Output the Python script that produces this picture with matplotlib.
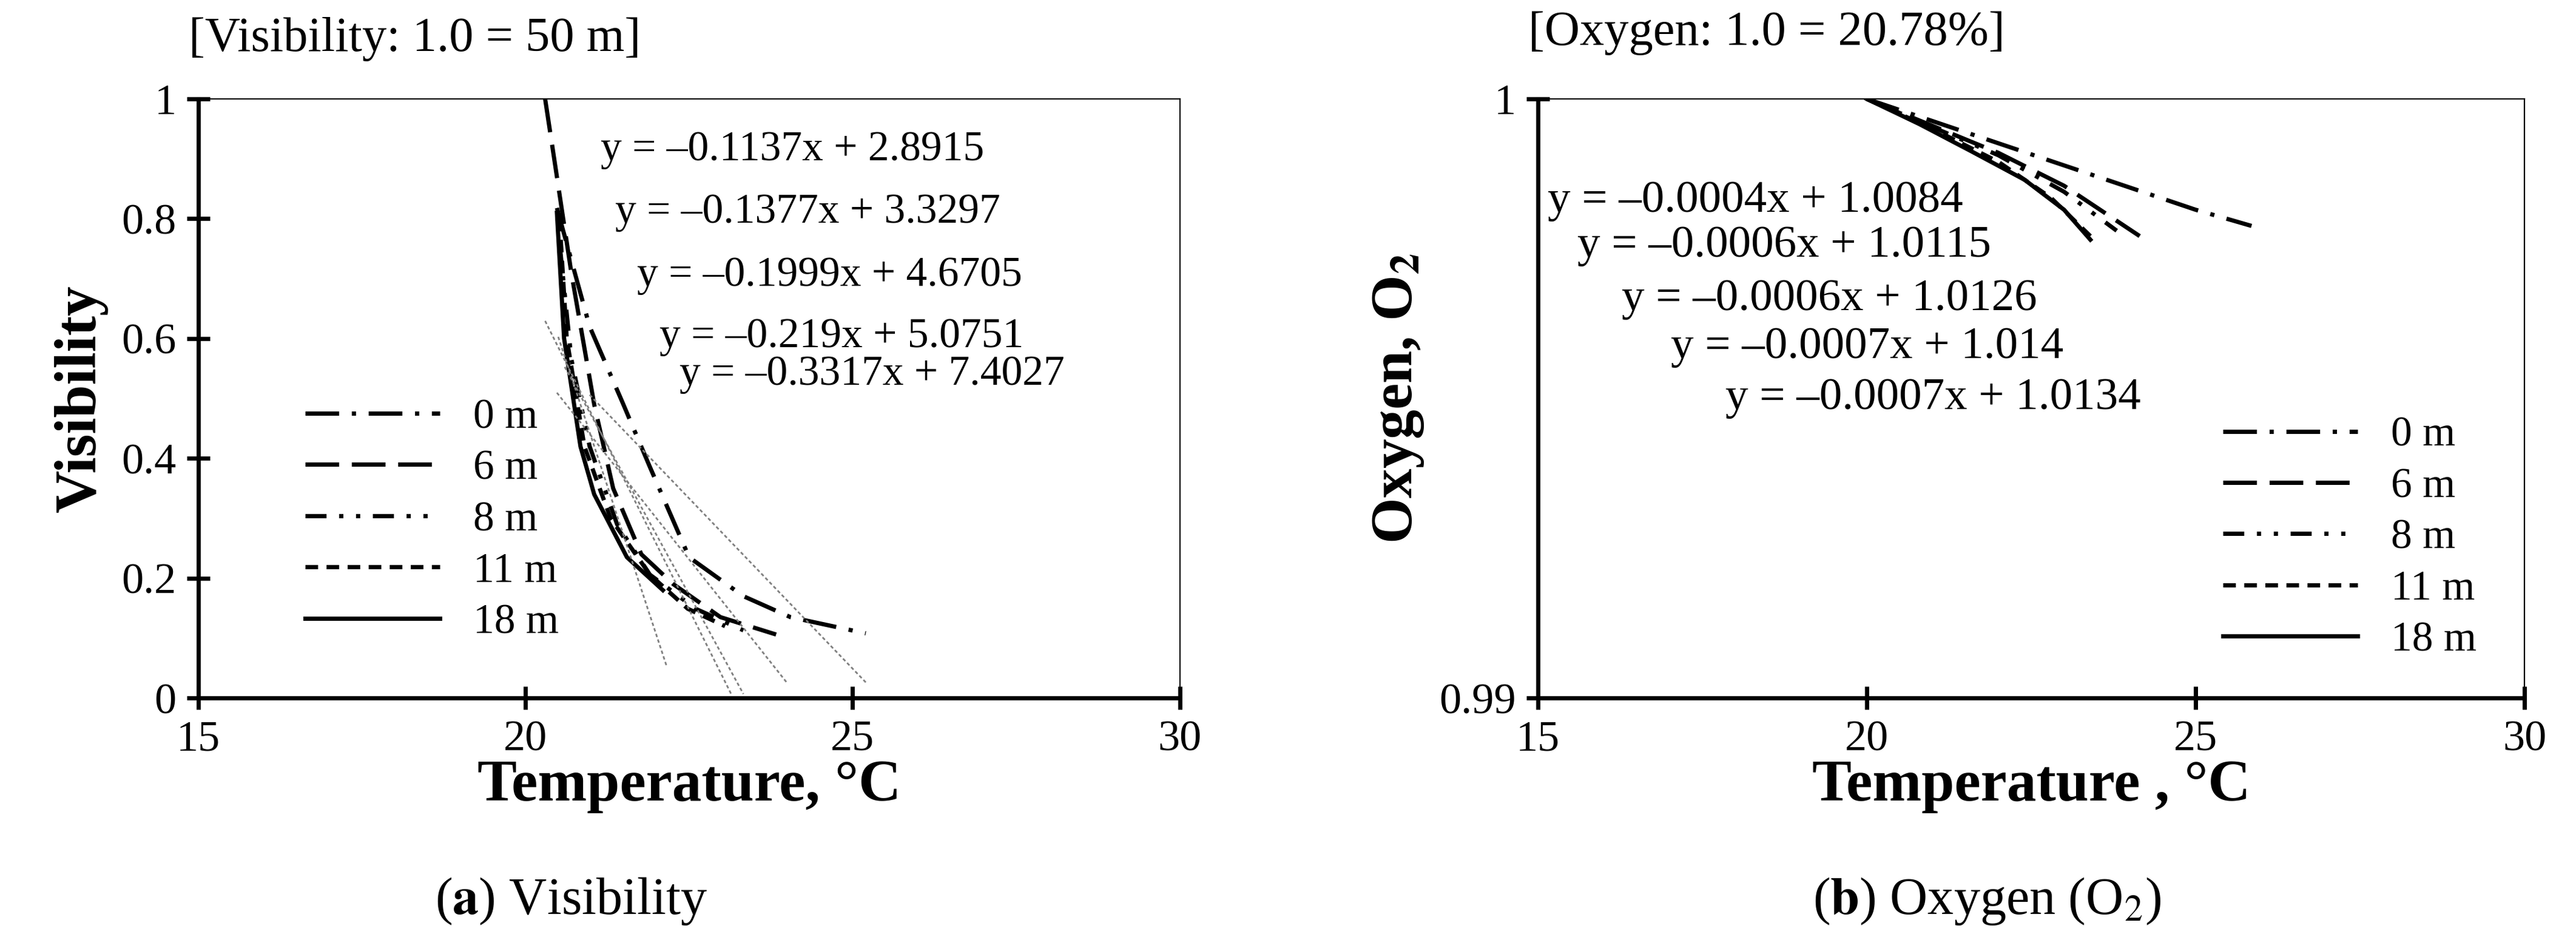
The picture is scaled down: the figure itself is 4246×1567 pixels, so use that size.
import matplotlib
matplotlib.use("Agg")
import matplotlib.pyplot as plt

plt.rcParams["font.family"] = ["Liberation Serif", "DejaVu Serif"]
plt.rcParams["mathtext.fontset"] = "stix"

labels = ["0 m", "6 m", "8 m", "11 m", "18 m"]
styles = [(0, (8, 3, 1, 3)), (0, (8, 3)), (0, (5, 3, 1, 3, 1, 3)), (0, (3, 2)), "-"]

# (a) visibility vs temperature
vis_t = [
    [20.48, 20.98, 21.48, 21.9, 22.5, 23.33, 24.05, 25.2],
    [20.3, 20.48, 20.7, 21.05, 21.34, 21.77, 22.26, 22.98, 23.83],
    [20.52, 20.7, 20.98, 21.4, 21.9, 22.6, 23.33],
    [20.52, 20.63, 20.9, 21.3, 21.9, 22.48, 23.05],
    [20.48, 20.59, 20.84, 21.05, 21.55, 21.9, 22.1],
]
vis_v = [
    [0.818, 0.62, 0.494, 0.386, 0.235, 0.17, 0.135, 0.108],
    [1.0, 0.87, 0.71, 0.49, 0.35, 0.24, 0.19, 0.135, 0.106],
    [0.76, 0.566, 0.42, 0.29, 0.206, 0.149, 0.113],
    [0.80, 0.60, 0.42, 0.30, 0.206, 0.149, 0.12],
    [0.81, 0.60, 0.42, 0.34, 0.235, 0.20, 0.18],
]
vis_slope = [-0.1137, -0.1377, -0.1999, -0.219, -0.3317]
vis_icpt = [2.8915, 3.3297, 4.6705, 5.0751, 7.4027]
vis_trend_range = [(20.98, 25.2), (20.48, 24.0), (20.6, 23.33), (20.3, 23.15), (20.5, 22.16)]
vis_eq = ["y = \u20130.1137x + 2.8915", "y = \u20130.1377x + 3.3297",
          "y = \u20130.1999x + 4.6705", "y = \u20130.219x + 5.0751",
          "y = \u20130.3317x + 7.4027"]

# (b) oxygen vs temperature
oxy_t = [
    [20.0, 21.0, 22.0, 23.0, 24.0, 25.0, 25.85],
    [20.0, 21.0, 22.0, 23.0, 24.15],
    [20.0, 21.0, 22.0, 23.0, 23.8],
    [20.0, 21.0, 22.0, 22.8, 23.4],
    [20.0, 20.8, 21.6, 22.4, 23.0, 23.4],
]
oxy_v = [
    [1.0, 0.99963, 0.99926, 0.99889, 0.99852, 0.99815, 0.99788],
    [1.0, 0.99955, 0.9991, 0.99855, 0.99771],
    [1.0, 0.99953, 0.99906, 0.99845, 0.9978],
    [1.0, 0.9995, 0.99895, 0.99835, 0.99771],
    [1.0, 0.99958, 0.99912, 0.99865, 0.99815, 0.99765],
]
oxy_eq = ["y = \u20130.0004x + 1.0084", "y = \u20130.0006x + 1.0115",
          "y = \u20130.0006x + 1.0126", "y = \u20130.0007x + 1.014",
          "y = \u20130.0007x + 1.0134"]

fig = plt.figure(figsize=(21.23, 7.835), dpi=200)
ax1 = fig.add_axes([0.077, 0.266, 0.381, 0.63])
ax2 = fig.add_axes([0.597, 0.266, 0.383, 0.63])


def style_axes(ax):
    for s in ["left", "bottom"]:
        ax.spines[s].set_linewidth(2.5)
    for s in ["top", "right"]:
        ax.spines[s].set_linewidth(0.8)
    ax.tick_params(direction="inout", length=14, width=2.5, labelsize=26, pad=6)


for t, v, ls, lab in zip(vis_t, vis_v, styles, labels):
    ax1.plot(t, v, color="black", lw=2.5, linestyle=ls, label=lab)
for (a, b), m, c in zip(vis_trend_range, vis_slope, vis_icpt):
    ax1.plot([a, b], [m * a + c, m * b + c], color="grey", lw=1, linestyle=(0, (2, 1.5)))
ax1.set_xlim(15, 30)
ax1.set_ylim(0, 1)
ax1.set_xticks([15, 20, 25, 30])
ax1.set_yticks([0, 0.2, 0.4, 0.6, 0.8, 1])
ax1.set_yticklabels(["0", "0.2", "0.4", "0.6", "0.8", "1"])
style_axes(ax1)
ax1.set_xlabel("Temperature, \u00b0C", fontsize=35, fontweight="bold", labelpad=0)
ax1.set_ylabel("Visibility", fontsize=35, fontweight="bold", labelpad=8)
ax1.legend(loc="lower left", bbox_to_anchor=(0.07, 0.03), frameon=False, fontsize=25,
           handlelength=3.2, labelspacing=0.3)
for eq, xs, ys in zip(vis_eq, [0.41, 0.425, 0.447, 0.47, 0.49],
                      [0.915, 0.81, 0.705, 0.603, 0.54]):
    ax1.text(xs, ys, eq, transform=ax1.transAxes, fontsize=25, va="center")
ax1.text(-0.01, 1.08, "[Visibility: 1.0 = 50 m]", transform=ax1.transAxes, fontsize=29)
ax1.text(0.38, -0.36, r"($\mathbf{a}$) Visibility", transform=ax1.transAxes,
         fontsize=31, ha="center")

for t, v, ls, lab in zip(oxy_t, oxy_v, styles, labels):
    ax2.plot(t, v, color="black", lw=2.5, linestyle=ls, label=lab)
ax2.set_xlim(15, 30)
ax2.set_ylim(0.99, 1.0)
ax2.set_xticks([15, 20, 25, 30])
ax2.set_yticks([0.99, 1.0])
ax2.set_yticklabels(["0.99", "1"])
style_axes(ax2)
ax2.set_xlabel("Temperature , \u00b0C", fontsize=35, fontweight="bold", labelpad=0)
ax2.set_ylabel("Oxygen, O$_\\mathbf{2}$", fontsize=35, fontweight="bold", labelpad=8)
ax2.legend(loc="lower right", bbox_to_anchor=(0.99, 0.0), frameon=False, fontsize=25,
           handlelength=3.2, labelspacing=0.3)
for eq, xs, ys in zip(oxy_eq, [0.01, 0.04, 0.085, 0.135, 0.19],
                      [0.83, 0.755, 0.665, 0.585, 0.5]):
    ax2.text(xs, ys, eq, transform=ax2.transAxes, fontsize=27, va="center")
ax2.text(-0.01, 1.09, "[Oxygen: 1.0 = 20.78%]", transform=ax2.transAxes, fontsize=29)
ax2.text(0.455, -0.36, r"($\mathbf{b}$) Oxygen (O$_2$)", transform=ax2.transAxes,
         fontsize=31, ha="center")

fig.savefig("out.png", dpi=200)
